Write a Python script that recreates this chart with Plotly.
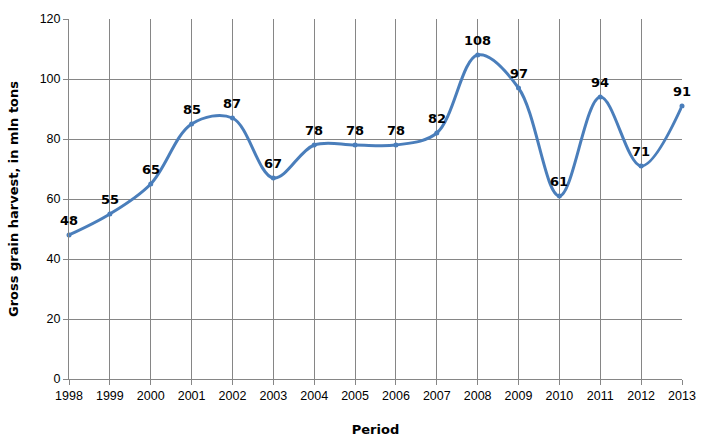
import plotly.graph_objects as go

years = list(range(1998, 2014))
harvest = [48, 55, 65, 85, 87, 67, 78, 78, 78, 82, 108, 97, 61, 94, 71, 91]
y_ticks = [0, 20, 40, 60, 80, 100, 120]

fig = go.Figure()
fig.add_trace(go.Scatter(
    x=years, y=harvest,
    mode="lines+markers",
    line=dict(color="#4a7ebb", width=3, shape="spline", smoothing=1),
    marker=dict(size=5, color="#4a7ebb"),
    cliponaxis=False,
    hoverinfo="skip",
))

for xv, yv in zip(years, harvest):
    fig.add_annotation(
        x=xv, y=yv, text=str(yv), showarrow=False,
        yanchor="bottom", yshift=5,
        font=dict(family="DejaVu Sans", size=13, color="black", weight="bold"),
    )

tickfont = dict(family="Liberation Sans", size=12.5, color="black")
fig.update_layout(
    width=708, height=446,
    margin=dict(l=69, r=24, t=15, b=66),
    paper_bgcolor="white", plot_bgcolor="white",
    showlegend=False,
    xaxis=dict(
        range=[1998, 2013], tickmode="array", tickvals=years,
        ticktext=[str(y) for y in years],
        showgrid=True, gridcolor="#868686", gridwidth=1,
        showline=True, linecolor="#868686", linewidth=1,
        ticks="outside", ticklen=5, tickcolor="#868686",
        tickfont=tickfont, zeroline=False,
        title=dict(text="Period", font=dict(family="DejaVu Sans", size=13, color="black", weight="bold"), standoff=22),
    ),
    yaxis=dict(
        range=[0, 120], tickmode="array", tickvals=y_ticks,
        showgrid=True, gridcolor="#868686", gridwidth=1,
        showline=True, linecolor="#868686", linewidth=1,
        ticks="outside", ticklen=5, tickcolor="#868686",
        tickfont=tickfont, zeroline=False,
        title=dict(text="Gross grain harvest, in mln tons", font=dict(family="DejaVu Sans", size=13, color="black", weight="bold"), standoff=18),
    ),
)

fig.write_html("out.html")
